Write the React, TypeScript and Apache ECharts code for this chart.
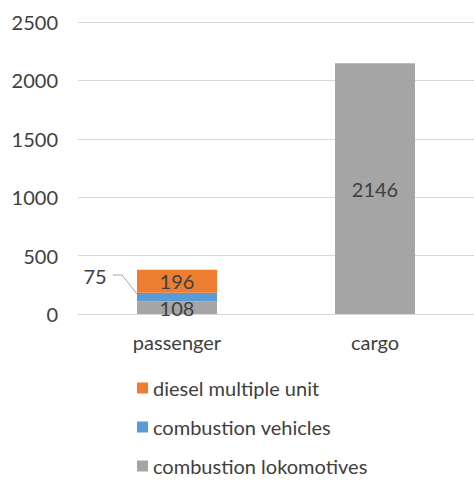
import React, { useEffect, useRef } from "react";
import * as echarts from "echarts";

const categories = ["passenger", "cargo"];
const lokomotives = [108, 2146];
const vehicles: (number | null)[] = [75, null];
const dmu: (number | null)[] = [196, null];
const yTicks = { min: 0, max: 2500, interval: 500 };

const FONT = "Lato";
const TEXT = "#404040";
const FS = 20;

export default function App() {
  const ref = useRef<HTMLDivElement>(null);
  useEffect(() => {
    if (!ref.current) return;
    const chart = echarts.init(ref.current, null, { renderer: "svg" });
    const label = {
      show: true,
      position: "inside" as const,
      color: TEXT,
      fontFamily: FONT,
      fontSize: FS,
    };
    chart.setOption({
      animation: false,
      textStyle: { fontFamily: FONT },
      grid: { left: 78, top: 22, width: 400, bottom: 167, containLabel: false },
      legend: {
        orient: "vertical",
        left: 132,
        top: 373,
        height: 110,
        icon: "rect",
        itemWidth: 11,
        itemHeight: 11,
        itemGap: 19,
        textStyle: { color: TEXT, fontFamily: FONT, fontSize: FS },
        data: ["diesel multiple unit", "combustion vehicles", "combustion lokomotives"],
        selectedMode: false,
      },
      xAxis: {
        type: "category",
        data: categories,
        axisLine: { show: true, lineStyle: { color: "#D9D9D9", width: 1 } },
        axisTick: { show: false },
        axisLabel: { color: TEXT, fontFamily: FONT, fontSize: FS, margin: 18 },
      },
      yAxis: {
        type: "value",
        min: yTicks.min,
        max: yTicks.max,
        interval: yTicks.interval,
        axisLine: { show: false },
        axisTick: { show: false },
        splitLine: { lineStyle: { color: "#D9D9D9", width: 1 } },
        axisLabel: {
          color: TEXT,
          fontFamily: FONT,
          fontSize: FS,
          margin: 20,
          formatter: (v: number) => String(v),
        },
      },
      series: [
        {
          name: "combustion lokomotives",
          type: "bar",
          stack: "total",
          barWidth: 80,
          data: lokomotives,
          itemStyle: { color: "#A5A5A5" },
          label,
        },
        {
          name: "combustion vehicles",
          type: "bar",
          stack: "total",
          barWidth: 80,
          data: vehicles,
          itemStyle: { color: "#5B9BD5" },
          label: { show: false },
        },
        {
          name: "diesel multiple unit",
          type: "bar",
          stack: "total",
          barWidth: 80,
          data: dmu,
          itemStyle: { color: "#ED7D31" },
          label,
        },
      ],
    });
    const mid = lokomotives[0] + (vehicles[0] as number) / 2;
    const p = chart.convertToPixel({ gridIndex: 0 }, [categories[0], mid]) as number[];
    const ex = p[0] - 40;
    const ey = p[1] - 3;
    chart.setOption({
      graphic: [
        {
          type: "polyline",
          shape: { points: [[ex, ey], [ex - 15, ey - 19], [ex - 24, ey - 19]] },
          style: { stroke: "#A6A6A6", lineWidth: 1, fill: "none" },
          silent: true,
        },
        {
          type: "text",
          x: ex - 42,
          y: ey - 18,
          style: {
            text: String(vehicles[0]),
            fill: TEXT,
            font: `${FS}px ${FONT}`,
            align: "center",
            verticalAlign: "middle",
          },
        },
      ],
    });
    return () => chart.dispose();
  }, []);
  return (
    <div
      ref={ref}
      style={{ position: "fixed", left: 0, top: 0, width: 474, height: 481, background: "#fff" }}
    />
  );
}
